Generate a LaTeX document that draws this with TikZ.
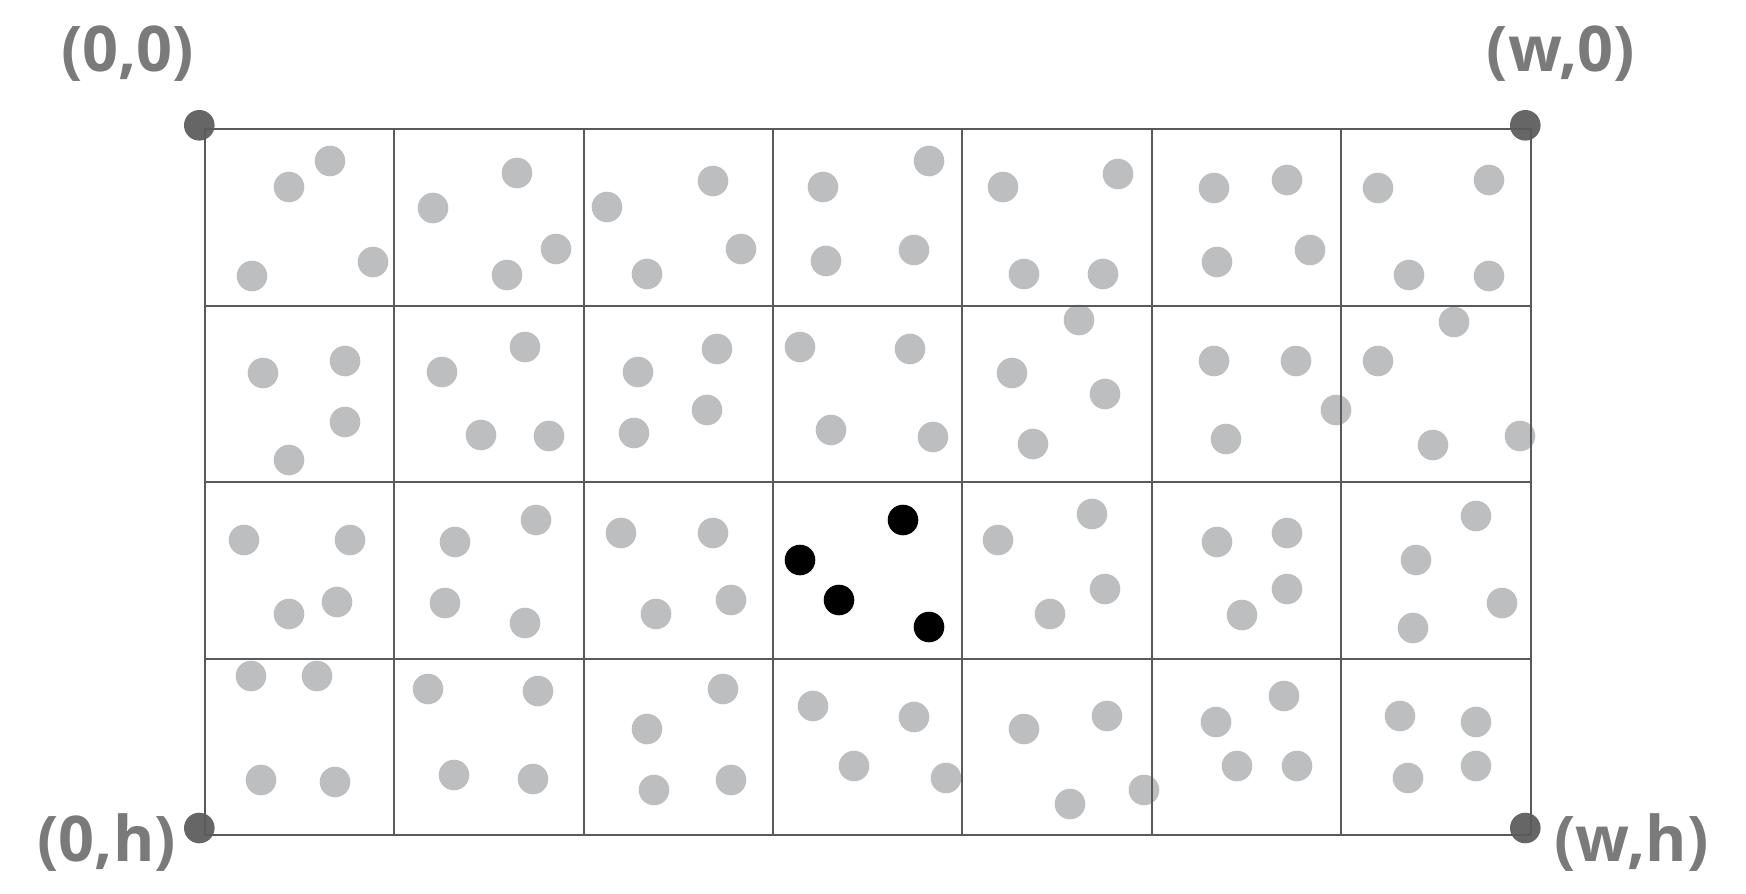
\documentclass[tikz,border=0pt]{standalone}
\usepackage{fontspec}
\setmainfont{Open Sans}
\definecolor{dotgray}{HTML}{BDBEC0}
\definecolor{cornergray}{HTML}{666666}
\definecolor{linegray}{HTML}{5A5A5A}
\definecolor{labelgray}{HTML}{7A7A7A}
\tikzset{
  gdot/.style={fill=dotgray},
  bdot/.style={fill=black},
  cdot/.style={fill=cornergray},
  gridline/.style={draw=linegray, line width=1pt},
  corner/.style={text=labelgray, font=\fontsize{31.5}{36}\selectfont\bfseries, inner sep=0pt, anchor=base}
}
\begin{document}
\begin{tikzpicture}[x=0.5pt,y=-0.5pt]
\useasboundingbox (0,0) rectangle (1746,894);
% grey dots
\foreach \px/\py in {
 330/161, 289/187, 252/276, 373/262,
 517/173, 433/208, 556/249, 507/275,
 713/181, 607/207, 741/249, 647/274,
 823/187, 929/161, 826/261, 914/250,
 1003/187, 1118/174, 1024/274, 1103/274,
 1214/188, 1287/180, 1217/262, 1310/250,
 1378/188, 1489/180, 1409/275, 1489/276,
 263/373, 345/361, 345/422, 289/460,
 525/347, 442/372, 481/435, 549/436,
 717/349, 638/372, 707/410, 634/433,
 800/347, 910/349, 831/430, 933/437,
 1079/320, 1012/373, 1105/394, 1033/444,
 1214/361, 1296/361, 1336/410, 1226/439,
 1454/322, 1378/361, 1433/445, 1520/436,
 244/540, 350/540, 289/614, 337/602,
 536/520, 455/542, 445/603, 525/623,
 621/533, 713/533, 656/614, 731/600,
 1092/514, 998/540, 1105/589, 1050/614,
 1217/542, 1287/533, 1287/589, 1242/615,
 1476/516, 1416/560, 1502/603, 1413/628,
 251/676, 317/676, 261/780, 335/782,
 428/689, 538/691, 454/775, 533/779,
 723/689, 647/729, 654/790, 731/780,
 813/706, 914/717, 854/766, 946/778,
 1024/729, 1107/716, 1070/804, 1144/790,
 1216/722, 1284/696, 1237/766, 1297/766,
 1400/716, 1476/722, 1408/778, 1476/766}
  \fill[gdot] (\px,\py) circle[radius=15.3];
% black dots
\foreach \px/\py in {903/520, 800/560, 839/600, 929/627}
  \fill[bdot] (\px,\py) circle[radius=15.3];
% corner dots
\fill[cdot] (199.3,125.3) circle[radius=15.3];
\fill[cdot] (1525.3,125.3) circle[radius=15.3];
\fill[cdot] (199.3,828) circle[radius=15.3];
\fill[cdot] (1525.3,828) circle[radius=15.3];
% grid
\foreach \k in {0,...,7}
  \draw[gridline] ({204.7+\k*189.43},129.3) -- ({204.7+\k*189.43},835);
\foreach \k in {0,...,4}
  \draw[gridline] (204.7,{129.3+\k*176.43}) -- (1530.7,{129.3+\k*176.43});
% labels
\node[corner] (l00) at (127.5,71.7) {(0,0)};
\node[corner] (lw0) at (1561,71.7) {(w,0)};
\node[corner] (l0h) at (106.7,861.7) {(0,h)};
\node[corner] (lwh) at (1631.5,861.7) {(w,h)};
\end{tikzpicture}
\end{document}
